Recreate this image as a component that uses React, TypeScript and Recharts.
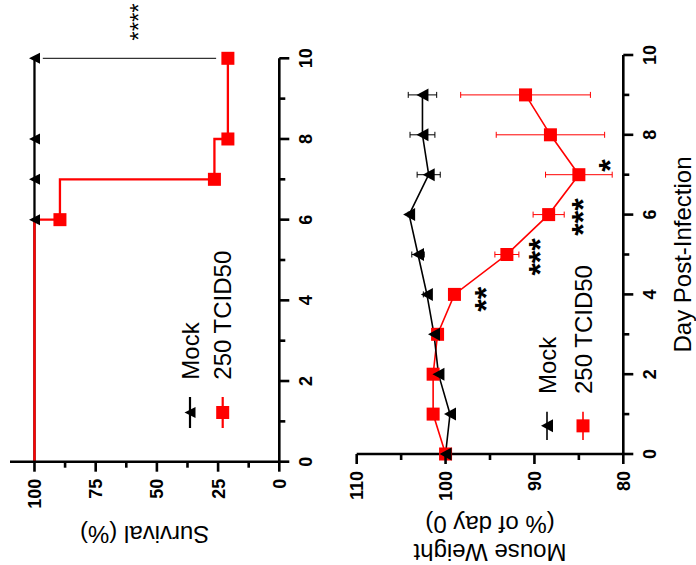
import React from 'react';
import {
  LineChart,
  Line,
  XAxis,
  YAxis,
  ErrorBar,
  ReferenceLine,
  ReferenceDot,
  Legend,
  Label,
} from 'recharts';

const FONT = '"Liberation Sans", Arial, Helvetica, sans-serif';
const RED = '#ff0000';
const BLACK = '#000000';
const AXIS_W = 2.6;

const seriesNames = ['Mock', '250 TCID50'];

// Kaplan-Meier survival (%)
const survivalDays = [0, 6, 7, 8, 10];
const survivalMock = [100, 100, 100, 100, 100];
const survivalInfected = [100, 89.6, 26.5, 21, 21];

// body weight, % of day 0 (mean + error)
const weightDays = [0, 1, 2, 3, 4, 5, 6, 7, 8, 9];
const weightMock = [100, 99.5, 100.8, 101.3, 102.1, 103.1, 104.1, 101.9, 102.6, 102.6];
const weightMockErr = [0, 0.1, 0.3, 0.2, 0.4, 0.7, 0.1, 1.3, 1.4, 1.6];
const weightInfected = [100, 101.4, 101.4, 100.9, 99.0, 93.1, 88.4, 85.0, 88.2, 91.0];
const weightInfectedErr = [0, 0.1, 0.5, 0.3, 0.3, 1.35, 1.75, 3.75, 6.1, 7.3];

// axes
const dayTicks = [0, 1, 2, 3, 4, 5, 6, 7, 8, 9, 10];
const dayLabels = [0, 2, 4, 6, 8, 10];
const survivalTicks = [0, 12.5, 25, 37.5, 50, 62.5, 75, 87.5, 100];
const survivalLabels = [0, 25, 50, 75, 100];
const weightTicks = [80, 85, 90, 95, 100, 105, 110];
const weightLabels = [80, 90, 100, 110];

// significance marks
const survivalBracket = [
  { x: 10, y: 96.6 },
  { x: 10, y: 25.8 },
];
const survivalStars = [{ day: 10.9, value: 59.6, text: '****' }];
const weightStars = [
  { day: 3.88, value: 96.3, text: '**' },
  { day: 4.94, value: 90.2, text: '***' },
  { day: 5.94, value: 85.35, text: '***' },
  { day: 7.23, value: 82.4, text: '*' },
];

const survivalData = survivalDays.map((day, i) => ({
  day,
  mock: survivalMock[i],
  infected: survivalInfected[i],
}));

const weightData = weightDays.map((day, i) => ({
  day,
  mock: weightMock[i],
  mockErr: weightMockErr[i],
  infected: weightInfected[i],
  infectedErr: weightInfectedErr[i],
}));

const makeYTick = (labels: number[]) => (props: any) => {
  const { x, y, payload } = props;
  const major = labels.includes(payload.value);
  return (
    <g>
      <line x1={x} x2={x - (major ? 10 : 6)} y1={y} y2={y} stroke={BLACK} strokeWidth={AXIS_W} />
      {major && (
        <text x={x - 17} y={y} dy="0.36em" textAnchor="end" fontSize={18} fontWeight="bold" fontFamily={FONT} fill={BLACK}>
          {payload.value}
        </text>
      )}
    </g>
  );
};

const XTick = (props: any) => {
  const { x, y, payload } = props;
  const major = dayLabels.includes(payload.value);
  return (
    <g>
      <line x1={x} x2={x} y1={y} y2={y + (major ? 10 : 6)} stroke={BLACK} strokeWidth={AXIS_W} />
      {major && (
        <text x={x} y={y + 26} dy="0.36em" textAnchor="middle" fontSize={18} fontWeight="bold" fontFamily={FONT} fill={BLACK}>
          {payload.value}
        </text>
      )}
    </g>
  );
};

const triPoints = (cx: number, cy: number, w: number, h: number) =>
  `${cx},${cy - h / 2} ${cx + w / 2},${cy + h / 2} ${cx - w / 2},${cy + h / 2}`;

const triangleDot = (w: number, h: number, skipFirst: boolean) => (props: any) => {
  const { cx, cy, index } = props;
  if (skipFirst && index === 0) return <g key={`t${index}`} />;
  return <polygon key={`t${index}`} points={triPoints(cx, cy, w, h)} fill={BLACK} />;
};

const squareDot = (s: number, skipFirst: boolean) => (props: any) => {
  const { cx, cy, index } = props;
  if (skipFirst && index === 0) return <g key={`s${index}`} />;
  return <rect key={`s${index}`} x={cx - s / 2} y={cy - s / 2} width={s} height={s} fill={RED} />;
};

const starShape = (text: string, size: number, bold: boolean) => (p: any) => (
  <text
    x={p.cx}
    y={p.cy + size * 0.58}
    textAnchor="middle"
    fontSize={size}
    fontWeight={bold ? 'bold' : 'normal'}
    fontFamily={FONT}
    fill={BLACK}
  >
    {text}
  </text>
);

interface LegendSpec {
  rowGap: number;
  lineLen: number;
  textX: number;
  lineWidth: number;
  tri: [number, number];
  sq: number;
}

const LegendContent = ({ spec }: { spec: LegendSpec }) => {
  const rows = [
    { name: seriesNames[0], color: BLACK, kind: 'tri' },
    { name: seriesNames[1], color: RED, kind: 'sq' },
  ];
  const cx = 2 + spec.lineLen / 2;
  return (
    <svg width={spec.textX + 140} height={spec.rowGap + 40} style={{ display: 'block' }}>
      {rows.map((r, i) => {
        const cy = 20 + i * spec.rowGap;
        return (
          <g key={r.name}>
            <line x1={2} x2={2 + spec.lineLen} y1={cy} y2={cy} stroke={r.color} strokeWidth={spec.lineWidth} />
            {r.kind === 'tri' ? (
              <polygon points={triPoints(cx, cy, spec.tri[0], spec.tri[1])} fill={r.color} />
            ) : (
              <rect x={cx - spec.sq / 2} y={cy - spec.sq / 2} width={spec.sq} height={spec.sq} fill={r.color} />
            )}
            <text x={spec.textX} y={cy} dy="0.36em" fontSize={24} fontFamily={FONT} fill={BLACK}>
              {r.name}
            </text>
          </g>
        );
      })}
    </svg>
  );
};

const axisLine = { stroke: BLACK, strokeWidth: AXIS_W };
const titleProps = { fontSize: 24, fontFamily: FONT, fill: BLACK };

const SurvivalChart = () => (
  <LineChart width={565} height={340} data={survivalData} margin={{ top: 10, right: 58.3, bottom: 0, left: 0 }}>
    <XAxis
      dataKey="day"
      type="number"
      domain={[0, 10]}
      ticks={dayTicks}
      interval={0}
      height={60.7}
      tickSize={0}
      tickMargin={0}
      tickLine={false}
      axisLine={axisLine}
      tick={XTick}
    />
    <YAxis
      type="number"
      domain={[0, 110]}
      ticks={survivalTicks}
      interval={0}
      width={103.3}
      tickSize={0}
      tickMargin={0}
      tickLine={false}
      axisLine={axisLine}
      tick={makeYTick(survivalLabels)}
    >
      <Label value="Survival (%)" angle={-90} position="insideLeft" offset={30} {...titleProps} style={{ textAnchor: 'middle' }} />
    </YAxis>
    <Line
      type="stepAfter"
      dataKey="mock"
      name={seriesNames[0]}
      stroke={BLACK}
      strokeWidth={2.3}
      dot={triangleDot(11, 11, true)}
      activeDot={false}
      isAnimationActive={false}
    />
    <Line
      type="stepAfter"
      dataKey="infected"
      name={seriesNames[1]}
      stroke={RED}
      strokeWidth={2.3}
      dot={squareDot(13, true)}
      activeDot={false}
      isAnimationActive={false}
    />
    <ReferenceLine segment={survivalBracket} stroke={BLACK} strokeWidth={1} />
    {survivalStars.map((s) => (
      <ReferenceDot key={s.text} x={s.day} y={s.value} r={0} ifOverflow="visible" shape={starShape(s.text, 24, false)} />
    ))}
    <Legend
      layout="vertical"
      align="center"
      verticalAlign="middle"
      wrapperStyle={{ left: 134.7, top: 170 }}
      content={() => (
        <LegendContent spec={{ rowGap: 32.7, lineLen: 31, textX: 50.3, lineWidth: 2.2, tri: [11, 11], sq: 13 }} />
      )}
    />
  </LineChart>
);

const WeightChart = () => (
  <LineChart width={565} height={356} data={weightData} margin={{ top: 16.7, right: 55, bottom: 0, left: 0 }}>
    <XAxis
      dataKey="day"
      type="number"
      domain={[0, 10]}
      ticks={dayTicks}
      interval={0}
      height={72.7}
      tickSize={0}
      tickMargin={0}
      tickLine={false}
      axisLine={axisLine}
      tick={XTick}
    >
      <Label value="Day Post-Infection" position="insideBottom" offset={5.4} {...titleProps} />
    </XAxis>
    <YAxis
      type="number"
      domain={[80, 110]}
      ticks={weightTicks}
      interval={0}
      width={111}
      tickSize={0}
      tickMargin={0}
      tickLine={false}
      axisLine={axisLine}
      tick={makeYTick(weightLabels)}
    >
      <Label value="Mouse Weight" angle={-90} position="insideLeft" offset={12.2} {...titleProps} style={{ textAnchor: 'middle' }} />
      <Label value="(% of day 0)" angle={-90} position="insideLeft" offset={40} {...titleProps} style={{ textAnchor: 'middle' }} />
    </YAxis>
    <Line
      type="linear"
      dataKey="infected"
      name={seriesNames[1]}
      stroke={RED}
      strokeWidth={1.6}
      dot={squareDot(13, false)}
      activeDot={false}
      isAnimationActive={false}
    >
      <ErrorBar dataKey="infectedErr" width={3} stroke={RED} strokeWidth={1} direction="y" />
    </Line>
    <Line
      type="linear"
      dataKey="mock"
      name={seriesNames[0]}
      stroke={BLACK}
      strokeWidth={1.6}
      dot={triangleDot(13, 12, false)}
      activeDot={false}
      isAnimationActive={false}
    >
      <ErrorBar dataKey="mockErr" width={3} stroke={BLACK} strokeWidth={1} direction="y" />
    </Line>
    {weightStars.map((s) => (
      <ReferenceDot key={`${s.day}`} x={s.day} y={s.value} r={0} ifOverflow="visible" shape={starShape(s.text, 32, true)} />
    ))}
    <Legend
      layout="vertical"
      align="center"
      verticalAlign="middle"
      wrapperStyle={{ left: 123, top: 186.7 }}
      content={() => (
        <LegendContent spec={{ rowGap: 36, lineLen: 28.3, textX: 48, lineWidth: 1.6, tri: [13, 12], sq: 13 }} />
      )}
    />
  </LineChart>
);

export default function App() {
  return (
    <>
      <style>{'body{margin:0;overflow:hidden;background:#fff}'}</style>
      <div
        style={{
          position: 'absolute',
          left: 0,
          top: 0,
          width: 565,
          height: 696,
          transformOrigin: '0 0',
          transform: 'translate(0px, 565px) rotate(-90deg)',
          background: '#fff',
          fontFamily: FONT,
        }}
      >
        <div style={{ position: 'absolute', left: 0, top: 0 }}>
          <SurvivalChart />
        </div>
        <div style={{ position: 'absolute', left: 0, top: 340 }}>
          <WeightChart />
        </div>
      </div>
    </>
  );
}
